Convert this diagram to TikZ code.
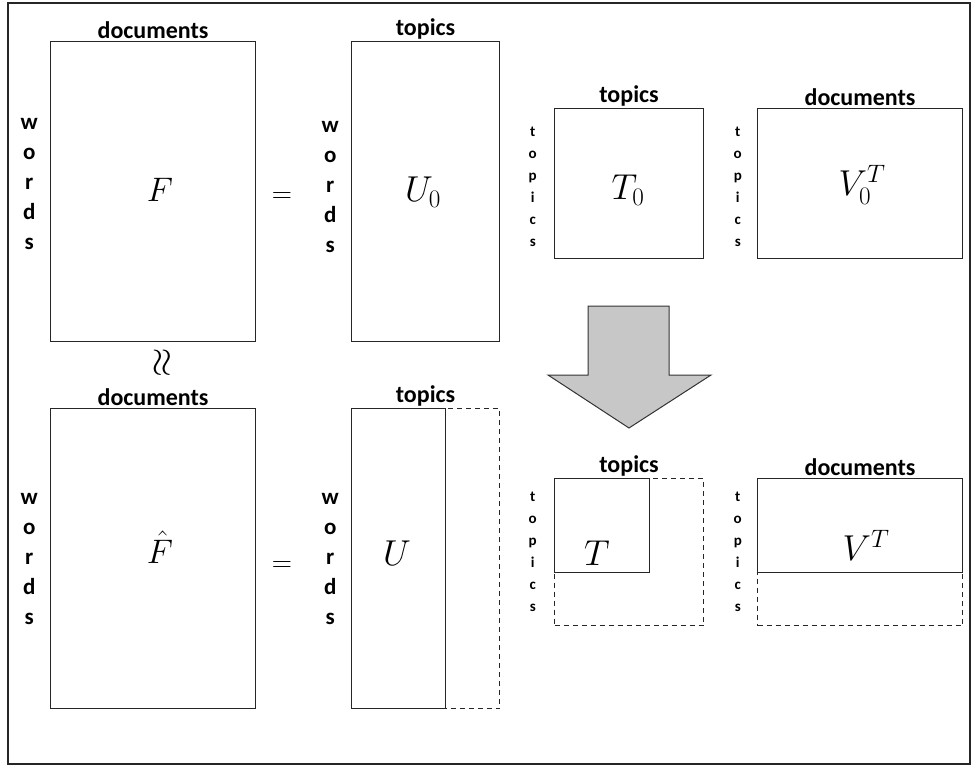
\RequirePackage{fix-cm}
\documentclass[tikz,border=0pt]{standalone}
\usepackage{fontspec}
\setmainfont{Carlito}
\usetikzlibrary{positioning}

\begin{document}
\begin{tikzpicture}[x=1pt, y=-1pt,
    mat/.style={rectangle, draw=black!85, line width=1.1pt, inner sep=0pt, anchor=north west},
    ghost/.style={rectangle, draw=black!85, line width=1.1pt, dash pattern=on 5pt off 4pt, inner sep=0pt, anchor=north west},
    hdr/.style={font=\fontsize{24}{26}\selectfont\bfseries, inner sep=1pt},
    side/.style={font=\fontsize{23}{30}\selectfont\bfseries, align=center, inner sep=0pt},
    sidesmall/.style={font=\fontsize{15}{22}\selectfont\bfseries, align=center, inner sep=0pt},
    sym/.style={font=\fontsize{36}{40}\selectfont, inner sep=0pt},
    rel/.style={font=\fontsize{28}{30}\selectfont, inner sep=0pt},
  ]
  \useasboundingbox (0,0) rectangle (972,768);
  \draw [line width=1.2pt, black!85] (8,3) rectangle (970,764);

  % top row: F = U0 T0 V0^T
  \node [mat, minimum width=205pt, minimum height=300pt] (F) at (50,41) {};
  \node [hdr, above=1pt of F] (Fdoc) {documents};
  \node [side, left=12pt of F, yshift=8pt] (Fwrd) {w\\o\\r\\d\\s};
  \node [sym, font=\fontsize{34}{38}\selectfont] (Flbl) at (160,190) {$F$};
  \node [rel] (eqtop) at (282,198) {$=$};

  \node [mat, minimum width=148pt, minimum height=300pt] (U0) at (351,41) {};
  \node [hdr, above=1pt of U0] (U0top) {topics};
  \node [side, left=12pt of U0, yshift=5pt] (U0wrd) {w\\o\\r\\d\\s};
  \node [sym] (U0lbl) at (423,192) {$U_0$};

  \node [mat, minimum width=149pt, minimum height=150pt] (T0) at (554,108) {};
  \node [hdr, above=1pt of T0] (T0top) {topics};
  \node [sidesmall, left=17pt of T0, yshift=-3pt] (T0top2) {t\\o\\p\\i\\c\\s};
  \node [sym] (T0lbl) at (628,190) {$T_0$};

  \node [mat, minimum width=205pt, minimum height=150pt] (V0) at (757,108) {};
  \node [hdr, above=1pt of V0] (V0doc) {documents};
  \node [sidesmall, left=15pt of V0, yshift=-3pt] (V0top) {t\\o\\p\\i\\c\\s};
  \node [sym] (V0lbl) at (862,185) {$V_0^T$};

  % approximation sign
  \node [rel, font=\fontsize{38}{40}\selectfont, rotate=90] (approx) at (163,363) {$\approx$};

  % block arrow
  \draw [fill=black!22, draw=black!80, line width=1pt] (588,306) -- (669,306) -- (669,375) -- (711,375)
    -- (629,428) -- (548,375) -- (588,375) -- cycle;

  % bottom row: F-hat = U T V^T
  \node [mat, minimum width=205pt, minimum height=300pt] (Fh) at (50,408) {};
  \node [hdr, above=1pt of Fh] (Fhdoc) {documents};
  \node [side, left=12pt of Fh] (Fhwrd) {w\\o\\r\\d\\s};
  \node [sym, font=\fontsize{34}{38}\selectfont] (Fhlbl) at (160,547) {$\hat{F}$};
  \node [rel] (eqbot) at (282,567) {$=$};

  \node [ghost, minimum width=148pt, minimum height=300pt] (Ufull) at (351,408) {};
  \node [mat, minimum width=94pt, minimum height=300pt] (U) at (351,408) {};
  \node [hdr, above=1pt of Ufull] (Utop) {topics};
  \node [side, left=12pt of U] (Uwrd) {w\\o\\r\\d\\s};
  \node [sym] (Ulbl) at (397,553) {$U$};

  \node [ghost, minimum width=149pt, minimum height=147pt] (Tfull) at (554,478) {};
  \node [mat, minimum width=95pt, minimum height=94pt] (T) at (554,478) {};
  \node [hdr, above=1pt of Tfull] (Ttop) {topics};
  \node [sidesmall, left=17pt of Tfull] (Ttop2) {t\\o\\p\\i\\c\\s};
  \node [sym] (Tlbl) at (597,553) {$T$};

  \node [ghost, minimum width=205pt, minimum height=147pt] (Vfull) at (757,478) {};
  \node [mat, minimum width=205pt, minimum height=94pt] (V) at (757,478) {};
  \node [hdr, above=1pt of Vfull] (Vdoc) {documents};
  \node [sidesmall, left=15pt of Vfull] (Vtop) {t\\o\\p\\i\\c\\s};
  \node [sym] (Vlbl) at (866,545) {$V^T$};
\end{tikzpicture}
\end{document}
